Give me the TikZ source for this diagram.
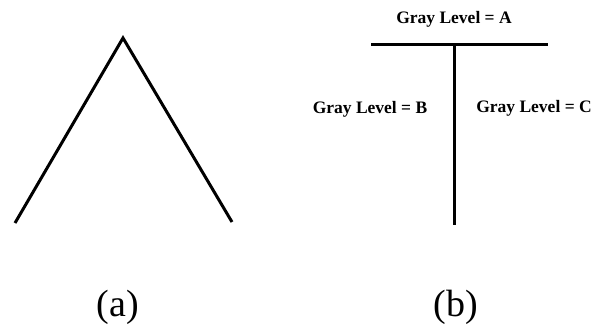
\documentclass[tikz,border=0pt]{standalone}
\usepackage{fontspec}
\setmainfont{Liberation Serif}
\begin{document}
\begin{tikzpicture}[x=1pt,y=-1pt,
  stroke/.style={line width=3pt,line cap=butt,line join=miter},
  level/.style={font=\fontsize{17.5}{20}\selectfont\bfseries,anchor=base,inner sep=0pt},
  caption/.style={font=\fontsize{38}{44}\selectfont,anchor=base,inner sep=0pt}]
\useasboundingbox (0,0) rectangle (592,327);
% (a)
\coordinate (aL) at (15,223);
\coordinate (aT) at (123,38);
\coordinate (aR) at (232,222);
\draw[stroke] (aL) -- (aT) -- (aR);
\node[caption] (capA) at (118,316) {(a)};
% (b)
\coordinate (hL) at (371,44);
\coordinate (hR) at (548,44);
\coordinate (vT) at (454,44);
\coordinate (vB) at (454,225);
\draw[stroke] (hL) -- (hR);
\draw[stroke] (vT) -- (vB);
\node[level] (gA) at (454,23) {Gray Level = A};
\node[level] (gB) at (370,113) {Gray Level = B};
\node[level] (gC) at (534,112) {Gray Level = C};
\node[caption] (capB) at (456,316) {(b)};
\end{tikzpicture}
\end{document}
